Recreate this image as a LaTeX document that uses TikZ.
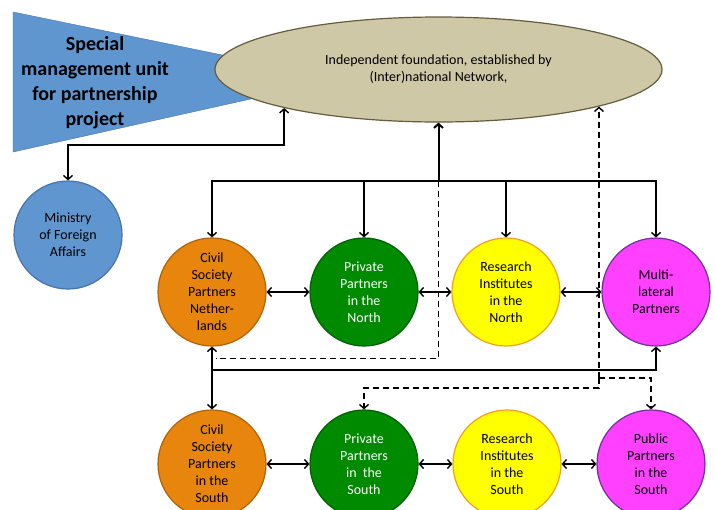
\documentclass[tikz,border=0pt]{standalone}
\usepackage{fontspec}
\setmainfont{Carlito}
\usepackage{tikz}
\usetikzlibrary{calc}
\usetikzlibrary{arrows.meta}
\usetikzlibrary{shapes.geometric}
\usepackage{color}
\definecolor{steelblue}{RGB}{96, 150, 208}
\definecolor{steeledge}{RGB}{70, 115, 170}
\definecolor{khaki}{RGB}{207, 200, 166}
\definecolor{khakiedge}{RGB}{100, 92, 60}
\definecolor{carrot}{RGB}{232, 133, 12}
\definecolor{carrotedge}{RGB}{176, 98, 10}
\definecolor{forest}{RGB}{0, 138, 0}
\definecolor{forestedge}{RGB}{0, 95, 0}
\definecolor{lemon}{RGB}{255, 255, 0}
\definecolor{lemonedge}{RGB}{240, 160, 30}
\definecolor{orchid}{RGB}{255, 64, 255}
\definecolor{orchidedge}{RGB}{112, 48, 160}
\tikzset{
  partner/.style={circle, minimum size=108pt, inner sep=0pt, line width=1.2pt,
                  align=center, font=\fontsize{14}{17}\selectfont},
  conn/.style={line width=1.4pt, >={Straight Barb[length=4pt, width=9pt]}},
  dashconn/.style={conn, dash pattern=on 6pt off 4pt},
}

\begin{document}
\begin{tikzpicture}[x=1pt, y=-1pt]
            \clip (0,0) rectangle (715,509);
            \filldraw[color=steeledge, fill=steelblue] (13,12) -- (300,71) -- (300,88) -- (13,152) -- cycle;
            \node (found) at (438.5,69.5) [ellipse, draw=khakiedge, fill=khaki, line width=1.2pt,
                 minimum width=447pt, minimum height=105pt, inner sep=0pt, align=center,
                 font=\fontsize{14}{17}\selectfont] {Independent foundation, established by\\(Inter)national Network,};
            \node (unit)  at (95,83)  [align=center, font=\fontsize{20}{25}\selectfont\bfseries]
                 {Special\\management unit\\for partnership\\project};
            \node (mfa)   at (68,235)   [partner, draw=steeledge,  fill=steelblue] {Ministry\\of Foreign\\Affairs};
            % north
            \node (csn)   at (212,292)  [partner, draw=carrotedge, fill=carrot] {Civil\\Society\\Partners\\Nether-\\lands};
            \node (pn)    at (364,292)  [partner, draw=forestedge, fill=forest, text=white] {Private\\Partners\\in the\\North};
            \node (rn)    at (506,292)  [partner, draw=lemonedge,  fill=lemon] {Research\\Institutes\\in the\\North};
            \node (ml)    at (656,292)  [partner, draw=orchidedge, fill=orchid] {Multi-\\lateral\\Partners};
            % south
            \node (css)   at (212,464)  [partner, draw=carrotedge, fill=carrot] {Civil\\Society\\Partners\\in the\\South};
            \node (ps)    at (364,464)  [partner, draw=forestedge, fill=forest, text=white] {Private\\Partners\\in\ \ the\\South};
            \node (rs)    at (507,464)  [partner, draw=lemonedge,  fill=lemon] {Research\\Institutes\\in the\\South};
            \node (pus)   at (651,464)  [partner, draw=orchidedge, fill=orchid] {Public\\Partners\\in the\\South};
            % connectors
            \coordinate (hub)   at (438.5,181);
            \coordinate (csnfb) at ($(csn.south)+(4,12)$);
            \coordinate (split) at (found.-13 |- 0,378);
            \draw[conn, ->, line width=2pt] (hub) -- (found.south);
            \foreach \p in {csn, pn, rn, ml}
                \draw[conn, ->] (hub) -| (\p.north);
            \draw[conn, <->] (found.194) -- (found.194 |- 0,145) -| (mfa.north);
            \draw[dashconn] (hub) |- (csnfb);
            \draw[conn, <->] (csn) -- (css);
            \draw[conn, ->] (csn.south |- 0,370) -| (ml.south);
            \draw[dashconn, ->] (split) -- (found.-13);
            \draw[dashconn, ->] (split) -| (pus.north);
            \draw[dashconn, ->] (split) -- ++(0,10) -| (ps.north);
            \foreach \a/\b in {csn/pn, pn/rn, rn/ml, css/ps, ps/rs, rs/pus}
                \draw[conn, <->] (\a) -- (\b);
        \end{tikzpicture}
\end{document}
